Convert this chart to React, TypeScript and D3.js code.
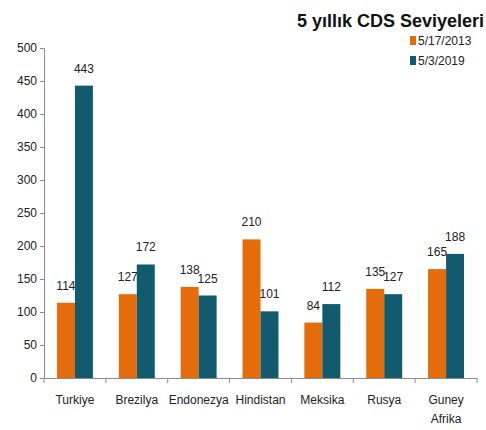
import React, { useEffect, useRef } from "react";
import * as d3 from "d3";

const categories = ["Turkiye", "Brezilya", "Endonezya", "Hindistan", "Meksika", "Rusya", "Guney Afrika"];
const series2013 = [114, 127, 138, 210, 84, 135, 165];
const series2019 = [443, 172, 125, 101, 112, 127, 188];
const seriesNames = ["5/17/2013", "5/3/2019"];
const yTicks = [0, 50, 100, 150, 200, 250, 300, 350, 400, 450, 500];

const colors = ["#E46C0A", "#125B6E"];
const font = "'Liberation Sans Narrow', 'Arial Narrow', 'Liberation Sans', Arial, sans-serif";

export default function App() {
  const ref = useRef<SVGSVGElement>(null);

  useEffect(() => {
    const width = 486;
    const height = 430;
    const margin = { top: 48, right: 9, bottom: 52, left: 44 };

    const svg = d3.select(ref.current);
    svg.selectAll("*").remove();

    const x = d3
      .scaleBand()
      .domain(categories)
      .range([margin.left, width - margin.right])
      .paddingInner(0)
      .paddingOuter(0);

    const inner = d3
      .scaleBand()
      .domain(["0", "1"])
      .range([0, x.bandwidth()])
      .paddingOuter(0.72)
      .paddingInner(0);

    const y = d3
      .scaleLinear()
      .domain([0, 500])
      .range([height - margin.bottom, margin.top]);

    // y axis
    svg
      .append("g")
      .attr("transform", `translate(${margin.left},0)`)
      .call(d3.axisLeft(y).tickValues(yTicks).tickSize(4).tickSizeOuter(0))
      .call((g) => g.selectAll("path, line").attr("stroke", "#8c8c8c"))
      .call((g) =>
        g
          .selectAll("text")
          .attr("font-family", font)
          .attr("font-size", 12)
          .attr("fill", "#222")
          .attr("x", -7)
      );

    // x axis
    svg
      .append("g")
      .attr("transform", `translate(0,${y(0)})`)
      .call(d3.axisBottom(x).tickValues([]).tickSizeOuter(0))
      .call((g) => g.select(".domain").attr("stroke", "#8c8c8c"));

    const edges = categories.map((c) => x(c) as number).concat([width - margin.right]);
    svg
      .append("g")
      .selectAll("line")
      .data(edges)
      .join("line")
      .attr("x1", (d) => d)
      .attr("x2", (d) => d)
      .attr("y1", y(0))
      .attr("y2", y(0) + 5)
      .attr("stroke", "#8c8c8c");

    // category labels
    svg
      .append("g")
      .selectAll("text")
      .data(categories)
      .join("text")
      .attr("font-family", font)
      .attr("font-size", 12)
      .attr("fill", "#222")
      .attr("text-anchor", "middle")
      .attr("transform", (d) => `translate(${(x(d) as number) + x.bandwidth() / 2},${y(0) + 26})`)
      .each(function (d) {
        const words = d.split(" ");
        const t = d3.select(this);
        words.forEach((w, i) => {
          t.append("tspan").attr("x", 0).attr("dy", i === 0 ? 0 : 19).text(w);
        });
      });

    // bars
    const allSeries = [series2013, series2019];
    allSeries.forEach((vals, si) => {
      const g = svg.append("g");
      g.selectAll("rect")
        .data(vals)
        .join("rect")
        .attr("x", (d, i) => (x(categories[i]) as number) + (inner(String(si)) as number))
        .attr("y", (d) => y(d))
        .attr("width", inner.bandwidth())
        .attr("height", (d) => y(0) - y(d))
        .attr("fill", colors[si]);

      g.selectAll("text")
        .data(vals)
        .join("text")
        .attr("x", (d, i) => (x(categories[i]) as number) + (inner(String(si)) as number) + inner.bandwidth() / 2)
        .attr("y", (d) => y(d) - 13)
        .attr("text-anchor", "middle")
        .attr("font-family", font)
        .attr("font-size", 12)
        .attr("fill", "#222")
        .text((d) => d);
    });

    // title
    svg
      .append("text")
      .attr("x", 484)
      .attr("y", 27)
      .attr("text-anchor", "end")
      .attr("font-family", font)
      .attr("font-weight", "bold")
      .attr("font-size", 18)
      .attr("fill", "#111")
      .text("5 yıllık CDS Seviyeleri");

    // legend
    const legend = svg
      .append("g")
      .selectAll("g")
      .data(seriesNames)
      .join("g")
      .attr("transform", (d, i) => `translate(410,${41 + i * 20})`);

    legend
      .append("rect")
      .attr("x", 0)
      .attr("y", -5)
      .attr("width", 6)
      .attr("height", 9)
      .attr("fill", (d, i) => colors[i]);

    legend
      .append("text")
      .attr("x", 8)
      .attr("y", 4)
      .attr("font-family", font)
      .attr("font-size", 12)
      .attr("fill", "#222")
      .text((d) => d);
  }, []);

  return (
    <svg
      ref={ref}
      width={486}
      height={430}
      style={{ position: "absolute", left: 0, top: 0, background: "#fff" }}
    />
  );
}
